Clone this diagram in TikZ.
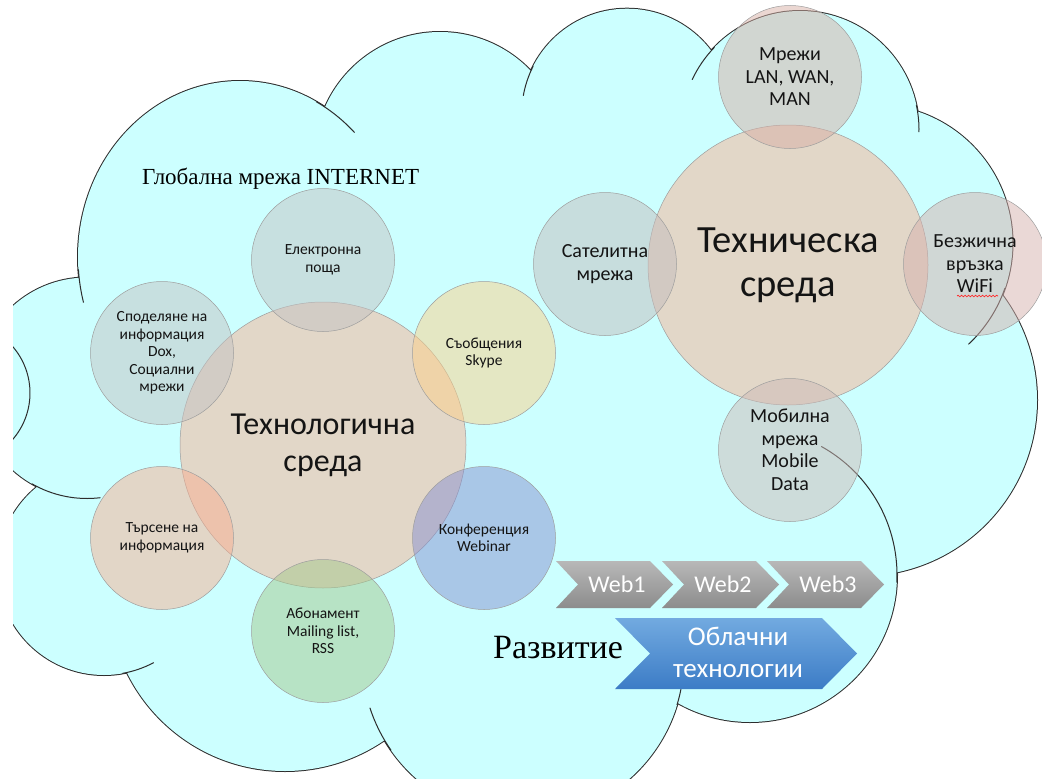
\documentclass[tikz,border=0pt]{standalone}
\usepackage{fontspec}
\setmainfont{Carlito}
\newfontfamily\serifcyr{Liberation Serif}
\usetikzlibrary{decorations.pathmorphing}
\definecolor{cloudcyan}{RGB}{204,255,255}
\definecolor{cloudink}{RGB}{45,45,45}
\definecolor{cMain}{RGB}{248,177,147}
\definecolor{cEmail}{RGB}{196,195,195}
\definecolor{cSkype}{RGB}{252,209,137}
\definecolor{cSearch}{RGB}{248,175,145}
\definecolor{cSub}{RGB}{164,201,140}
\definecolor{cConf}{RGB}{136,145,209}
\definecolor{cNet}{RGB}{215,175,165}
\definecolor{cSat}{RGB}{196,189,189}
\definecolor{cWifi}{RGB}{213,177,173}
\definecolor{cMob}{RGB}{206,187,183}
\definecolor{txt}{RGB}{20,20,20}
\definecolor{chevtop}{RGB}{184,184,184}
\definecolor{chevbot}{RGB}{140,140,140}
\definecolor{bluetop}{RGB}{114,170,224}
\definecolor{bluebot}{RGB}{60,124,198}
\begin{document}
\begin{tikzpicture}[x=1pt, y=-1pt,
  lobes/.style={insert path={
    (240,257) ellipse [x radius=162, y radius=176]
    (440,157.5) circle [radius=125.5]
    (627,114) circle [radius=105.3]
    (800,130) circle [radius=119]
    (874,243) circle [radius=138.5]
    (861,400) circle [radius=176]
    (750,575) circle [radius=147]
    (523,658) circle [radius=161]
    (285,595) circle [radius=176]
    (104,569) circle [radius=106]
    (87,388) circle [radius=110.5]}},
  cloudstroke/.style={draw=cloudink, line width=2pt},
  cloudbody/.style={fill=cloudcyan},
  cloudedge/.style={draw=cloudink, line width=1pt},
  venn/.style={circle, draw=black!38, line width=0.5pt, fill opacity=0.5,
    text opacity=1, inner sep=0pt, outer sep=0pt, align=center, text=txt},
  sat/.style={venn, minimum size=143pt},
  smalltxt/.style={font=\fontsize{15.5}{17.5}\selectfont},
  midtxt/.style={font=\fontsize{20}{22.5}\selectfont},
  chevgray/.style={top color=chevtop, bottom color=chevbot},
  chevblue/.style={top color=bluetop, bottom color=bluebot},
  webtxt/.style={text=white, inner sep=0pt, font=\fontsize{24}{28}\selectfont},
  serifttl/.style={anchor=base west, inner sep=0pt, text=black}
]
\useasboundingbox (0,0) rectangle (1042,779);
% ---------- cloud ----------
\begin{scope}
  \clip (13,0) rectangle (1042,779);
  \path[cloudstroke, lobes];
  \path[cloudbody, lobes];
  \fill[cloudcyan] (240,257) -- (440,157) -- (627,114) -- (800,130) -- (874,243)
     -- (861,400) -- (750,575) -- (523,658) -- (285,595) -- (104,569) -- (87,388) -- cycle;
  \draw[cloudedge] (240,257) ++(176:162 and 176) arc[start angle=176, end angle=165, x radius=162, y radius=176];
  \draw[cloudedge] (240,257) ++(-62:162 and 176) arc[start angle=-62, end angle=-45, x radius=162, y radius=176];
  \draw[cloudedge] (627,114) ++(207:105.3) arc[start angle=207, end angle=190, radius=105.3];
  \draw[cloudedge] (800,130) ++(224:119) arc[start angle=224, end angle=205, radius=119];
  \draw[cloudedge] (800,130) ++(-12:119) arc[start angle=-12, end angle=1, radius=119];
  \draw[cloudedge] (874,243) ++(19:138.5) arc[start angle=19, end angle=47, radius=138.5];
  \draw[cloudedge] (750,575) ++(3:147) arc[start angle=3, end angle=-61, radius=147];
  \draw[cloudedge] (523,658) ++(17:161) arc[start angle=17, end angle=10, radius=161];
  \draw[cloudedge] (523,658) ++(145:161) arc[start angle=145, end angle=162, radius=161];
  \draw[cloudedge] (104,569) ++(80:106) arc[start angle=80, end angle=62, radius=106];
  \draw[cloudedge] (87,388) ++(120:110.5) arc[start angle=120, end angle=83, radius=110.5];
  \draw[cloudedge] (-41,393) ++(-42:71) arc[start angle=-42, end angle=42, radius=71];
\end{scope}
% ---------- technological environment ----------
\node[venn, minimum size=286pt, fill=cMain, font=\fontsize{32}{37}\selectfont] (techno) at (323,445) {Технологична\\среда};
\node[sat, fill=cEmail, smalltxt] (email) at (323,260) {Електронна\\поща};
\node[sat, fill=cEmail, smalltxt] (share) at (162,353) {Споделяне на\\информация\\Dox,\\Социални\\мрежи};
\node[sat, fill=cSkype, smalltxt] (skype) at (484,353) {Съобщения\\Skype};
\node[sat, fill=cSearch, smalltxt] (search) at (162,538) {Търсене на\\информация};
\node[sat, fill=cSub, smalltxt] (subs) at (323,631) {Абонамент\\Mailing list,\\RSS};
\node[sat, fill=cConf, smalltxt] (conf) at (484,538) {Конференция\\Webinar};
% ---------- technical environment ----------
\node[venn, minimum size=280pt, fill=cMain, font=\fontsize{38.5}{44}\selectfont] (technic) at (788,265) {Техническа\\среда};
\node[sat, fill=cNet, midtxt] (nets) at (790,77) {Мрежи\\LAN, WAN,\\MAN};
\node[sat, fill=cSat, midtxt] (satnet) at (605,264) {Сателитна\\мрежа};
\node[sat, fill=cWifi, midtxt] (wifi) at (975,264) {Безжична\\връзка\\WiFi};
\node[sat, fill=cMob, midtxt] (mobile) at (790,450) {Мобилна\\мрежа\\Mobile\\Data};
\draw[red!85, line width=0.7pt, decorate, decoration={snake, amplitude=0.8pt, segment length=3.5pt}] (957,296) -- (998,296);
% ---------- titles ----------
\node[serifttl, font=\serifcyr\fontsize{23}{28}\selectfont] (globalnet) at (142,184) {Глобална мрежа INTERNET};
\node[serifttl, font=\serifcyr\fontsize{34}{40}\selectfont] (razvitie) at (493,658) {Развитие};
% ---------- chevrons ----------
\foreach \x/\lbl/\nm in {556/Web1/web1, 662/Web2/web2, 767/Web3/web3}{
  \shade[chevgray] (\x,561) -- (\x+94,561) -- (\x+117,584.5) -- (\x+94,608) -- (\x,608) -- (\x+22,584.5) -- cycle;
  \node[webtxt] (\nm) at (\x+61,584) {\lbl};
}
\shade[chevblue] (615,618) -- (822,618) -- (857,653.5) -- (822,689) -- (615,689) -- (650,653.5) -- cycle;
\node[webtxt, align=center, font=\fontsize{27}{32}\selectfont] (cloudtech) at (738,652) {Облачни\\технологии};
\end{tikzpicture}
\end{document}
